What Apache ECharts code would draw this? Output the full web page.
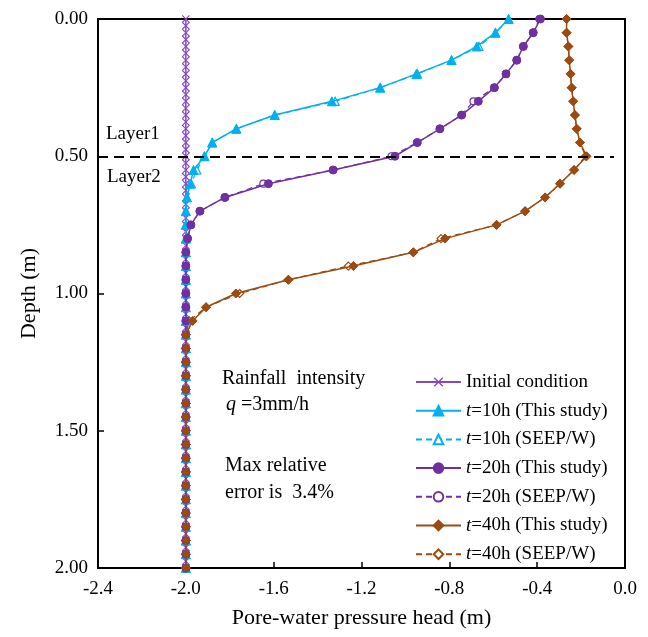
<!DOCTYPE html>
<html>
<head>
<meta charset="utf-8">
<script src="https://cdn.jsdelivr.net/npm/echarts@6/dist/echarts.min.js"></script>
<style>
  html, body { margin: 0; padding: 0; background: #fff; }
  #chart { width: 648px; height: 637px; }
</style>
</head>
<body>
<div id="chart"></div>
<script>
// depth nodes (m)
const depth = [0, 0.05, 0.1, 0.15, 0.2, 0.25, 0.3, 0.35, 0.4, 0.45, 0.5, 0.55, 0.6, 0.65, 0.7, 0.75, 0.8, 0.85, 0.9, 0.95,
  1.0, 1.05, 1.1, 1.15, 1.2, 1.25, 1.3, 1.35, 1.4, 1.45, 1.5, 1.55, 1.6, 1.65, 1.7, 1.75, 1.8, 1.85, 1.9, 1.95, 2.0];
const depthInit = [0, 0.025, 0.05, 0.075, 0.1, 0.125, 0.15, 0.175, 0.2, 0.225, 0.25, 0.275, 0.3, 0.325, 0.35, 0.375,
  0.4, 0.425, 0.45, 0.475, 0.5, 0.525, 0.55, 0.575, 0.6, 0.625, 0.65, 0.675, 0.7, 0.725, 0.75, 0.775, 0.8, 0.825,
  0.85, 0.875, 0.9, 0.925, 0.95, 0.975, 1.0, 1.025, 1.05, 1.075, 1.1, 1.125, 1.15, 1.175, 1.2, 1.225, 1.25, 1.275,
  1.3, 1.325, 1.35, 1.375, 1.4, 1.425, 1.45, 1.475, 1.5, 1.525, 1.55, 1.575, 1.6, 1.625, 1.65, 1.675, 1.7, 1.725,
  1.75, 1.775, 1.8, 1.825, 1.85, 1.875, 1.9, 1.925, 1.95, 1.975, 2.0];

// pore-water pressure head (m)
const headInit = -2.0;
const h10Model = [-0.53, -0.59, -0.675, -0.79, -0.95, -1.115, -1.335, -1.595, -1.77, -1.88, -1.915, -1.965, -1.98, -1.995,
  -2, -2, -2, -2, -2, -2, -2, -2, -2, -2, -2, -2, -2, -2, -2, -2, -2, -2, -2, -2, -2, -2, -2, -2, -2, -2, -2];
const h10Seep = [-0.53, -0.59, -0.665, -0.79, -0.945, -1.115, -1.32, -1.595, -1.77, -1.88, -1.915, -1.95, -1.975, -1.995,
  -2, -2, -2, -2, -2, -2, -2, -2, -2, -2, -2, -2, -2, -2, -2, -2, -2, -2, -2, -2, -2, -2, -2, -2, -2, -2, -2];
const h20Model = [-0.385, -0.418, -0.463, -0.493, -0.542, -0.595, -0.668, -0.744, -0.843, -0.946, -1.048, -1.329, -1.624,
  -1.822, -1.936, -1.977, -1.992, -2, -2, -2, -2, -2, -2, -2, -2, -2, -2, -2, -2, -2, -2, -2, -2, -2, -2, -2, -2, -2, -2, -2, -2];
const h20Seep = [-0.39, -0.418, -0.463, -0.493, -0.542, -0.595, -0.69, -0.744, -0.843, -0.946, -1.063, -1.329, -1.647,
  -1.822, -1.936, -1.977, -1.992, -2, -2, -2, -2, -2, -2, -2, -2, -2, -2, -2, -2, -2, -2, -2, -2, -2, -2, -2, -2, -2, -2, -2, -2];
const h40Model = [-0.266, -0.266, -0.258, -0.254, -0.248, -0.243, -0.236, -0.228, -0.22, -0.205, -0.175, -0.232, -0.296,
  -0.364, -0.455, -0.585, -0.82, -0.964, -1.237, -1.533, -1.772, -1.908, -1.969, -2, -2, -2, -2, -2, -2, -2, -2, -2, -2, -2,
  -2, -2, -2, -2, -2, -2, -2];
const h40Seep = [-0.266, -0.266, -0.258, -0.254, -0.248, -0.243, -0.236, -0.228, -0.22, -0.205, -0.18, -0.232, -0.296,
  -0.364, -0.455, -0.585, -0.838, -0.964, -1.26, -1.533, -1.755, -1.908, -1.985, -2, -2, -2, -2, -2, -2, -2, -2, -2, -2, -2,
  -2, -2, -2, -2, -2, -2, -2];

const xTicks = [-2.4, -2.0, -1.6, -1.2, -0.8, -0.4, 0.0];
const yTicks = [0, 0.5, 1.0, 1.5, 2.0];
const layerDepth = 0.5;

const FONT = '"Liberation Serif", "Times New Roman", serif';
const C_INIT = '#8647c6';
const C_10 = '#00b0f0';
const C_20 = '#7030a0';
const C_40 = '#9c4a10';
const CROSS = 'path://M0,1L1,0L5,4L9,0L10,1L6,5L10,9L9,10L5,6L1,10L0,9L4,5Z';

function pts(xs) {
  return depth.map((d, i) => [xs[i], d]);
}

function model(name, xs, color, symbol, size) {
  return {
    name: name, type: 'line', data: pts(xs), symbol: symbol, symbolSize: size,
    lineStyle: { color: color, width: 1.5 },
    itemStyle: { color: color, borderColor: color, borderWidth: 1 },
    z: 3
  };
}

function seep(name, xs, color, symbol, size) {
  return {
    name: name, type: 'line', data: pts(xs), symbol: symbol, symbolSize: size,
    lineStyle: { color: color, width: 1.2, type: [6, 4] },
    itemStyle: { color: '#fff', borderColor: color, borderWidth: 1.2 },
    z: 2
  };
}

const chart = echarts.init(document.getElementById('chart'));

const option = {
  animation: false,
  backgroundColor: '#fff',
  textStyle: { fontFamily: FONT, color: '#000' },
  grid: { left: 98, top: 19, right: 23, bottom: 69, show: true, borderColor: '#000', borderWidth: 2 },
  xAxis: {
    type: 'value', min: -2.4, max: 0, interval: 0.4,
    name: 'Pore-water pressure head (m)', nameLocation: 'middle', nameGap: 39,
    nameTextStyle: { fontFamily: FONT, fontSize: 22, color: '#000' },
    axisLine: { onZero: false, lineStyle: { color: '#000', width: 2 } },
    axisTick: { inside: true, length: 6, lineStyle: { color: '#000', width: 1.5 } },
    axisLabel: {
      fontFamily: FONT, fontSize: 19, color: '#000', margin: 12,
      formatter: v => xTicks.some(t => Math.abs(t - v) < 1e-6) ? v.toFixed(1) : ''
    },
    splitLine: { show: false }
  },
  yAxis: {
    type: 'value', inverse: true, min: 0, max: 2, interval: 0.5,
    name: 'Depth (m)', nameLocation: 'middle', nameGap: 58,
    nameTextStyle: { fontFamily: FONT, fontSize: 22, color: '#000' },
    axisLine: { onZero: false, lineStyle: { color: '#000', width: 2 } },
    axisTick: { inside: true, length: 6, lineStyle: { color: '#000', width: 1.5 } },
    axisLabel: {
      fontFamily: FONT, fontSize: 19, color: '#000', margin: 10,
      formatter: v => yTicks.some(t => Math.abs(t - v) < 1e-6) ? v.toFixed(2) : ''
    },
    splitLine: { show: false }
  },
  legend: {
    orient: 'vertical', left: 410, top: 366,
    itemWidth: 45, itemHeight: 12, itemGap: 6.7,
    textStyle: {
      fontFamily: FONT, fontSize: 19, color: '#000', lineHeight: 22,
      rich: {
        i: { fontFamily: FONT, fontSize: 19, fontStyle: 'italic', color: '#000', lineHeight: 22 },
        n: { fontFamily: FONT, fontSize: 19, color: '#000', lineHeight: 22 }
      }
    },
    formatter: function (name) {
      if (name.charAt(0) === 't') return '{i|t}{n|' + name.slice(1) + '}';
      return name;
    },
    data: ['Initial condition', 't=10h (This study)', 't=10h (SEEP/W)', 't=20h (This study)',
      't=20h (SEEP/W)', 't=40h (This study)', 't=40h (SEEP/W)']
  },
  graphic: [
    { type: 'text', left: 106, top: 125, style: { text: 'Layer1', font: '19px ' + FONT, fill: '#000' } },
    { type: 'text', left: 107, top: 168, style: { text: 'Layer2', font: '19px ' + FONT, fill: '#000' } },
    { type: 'text', left: 222, top: 369, style: { text: 'Rainfall  intensity', font: '20px ' + FONT, fill: '#000' } },
    {
      type: 'text', left: 226, top: 395,
      style: {
        text: '{i|q} =3mm/h', fill: '#000', font: '20px ' + FONT,
        rich: {
          i: { fontFamily: FONT, fontSize: 20, fontStyle: 'italic', fill: '#000', color: '#000' }
        }
      }
    },
    { type: 'text', left: 225, top: 456, style: { text: 'Max relative', font: '20px ' + FONT, fill: '#000' } },
    { type: 'text', left: 225, top: 483, style: { text: 'error is  3.4%', font: '20px ' + FONT, fill: '#000' } }
  ],
  series: [
    {
      name: 'Initial condition', type: 'line',
      data: depthInit.map(d => [headInit, d]),
      symbol: CROSS, symbolSize: 8,
      lineStyle: { color: C_INIT, width: 1.5 },
      itemStyle: { color: C_INIT },
      z: 1,
      markLine: {
        silent: true, symbol: 'none', label: { show: false },
        lineStyle: { color: '#000', width: 2, type: [10, 6] },
        data: [[{ coord: [-2.4, layerDepth] }, { coord: [-0.05, layerDepth] }]]
      }
    },
    model('t=10h (This study)', h10Model, C_10, 'triangle', 9),
    seep('t=10h (SEEP/W)', h10Seep, C_10, 'triangle', 8),
    model('t=20h (This study)', h20Model, C_20, 'circle', 8),
    seep('t=20h (SEEP/W)', h20Seep, C_20, 'circle', 7),
    model('t=40h (This study)', h40Model, C_40, 'diamond', 9),
    seep('t=40h (SEEP/W)', h40Seep, C_40, 'diamond', 8)
  ]
};

chart.setOption(option);
</script>
</body>
</html>
